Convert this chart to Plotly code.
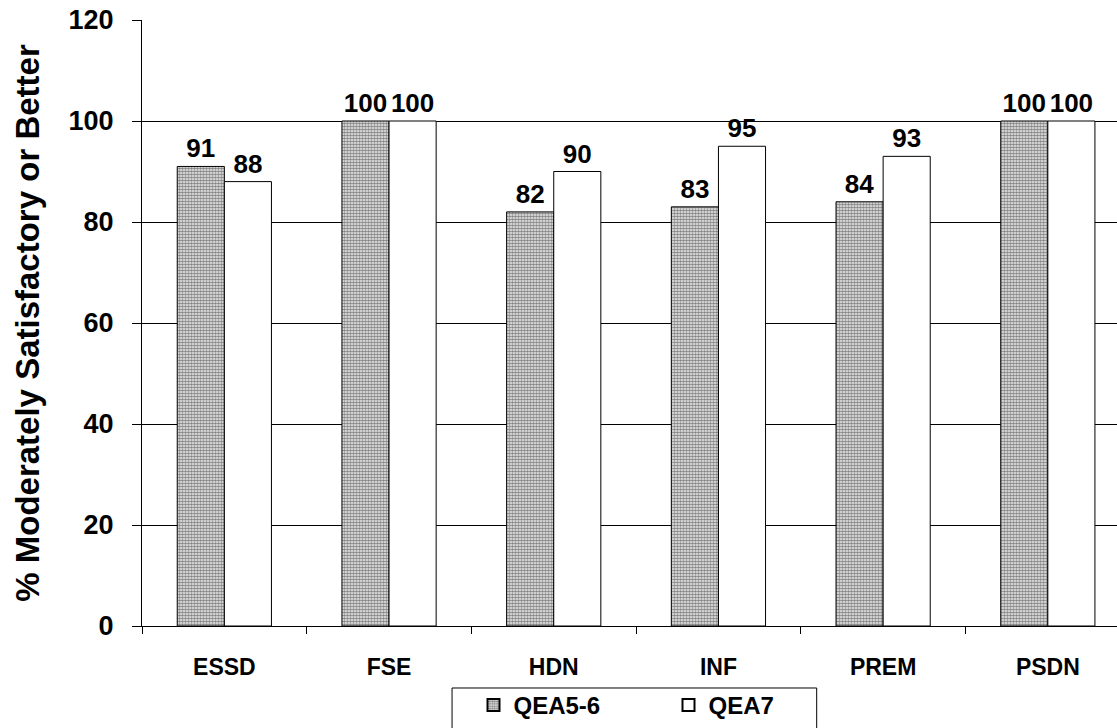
import plotly.graph_objects as go

categories = ["ESSD", "FSE", "HDN", "INF", "PREM", "PSDN"]
qea56 = [91, 100, 82, 83, 84, 100]
qea7 = [88, 100, 90, 95, 93, 100]
y_ticks = [0, 20, 40, 60, 80, 100, 120]

FONT = "Arial, Liberation Sans, Helvetica, sans-serif"


def bold(size):
    return dict(family=FONT, size=size, color="#000000", weight="bold")


fig = go.Figure()
fig.add_trace(go.Bar(
    name="QEA5-6", x=categories, y=qea56,
    marker=dict(color="#ffffff", line=dict(color="#000000", width=1),
                pattern=dict(shape=".", size=3, solidity=0.62,
                             fgcolor="#1a1a1a", bgcolor="#f2f2f2")),
    text=qea56, texttemplate="%{text}", textposition="outside",
    textfont=bold(26), constraintext="none",
    cliponaxis=False,
))
fig.add_trace(go.Bar(
    name="QEA7", x=categories, y=qea7,
    marker=dict(color="#ffffff", line=dict(color="#000000", width=1)),
    text=qea7, texttemplate="%{text}", textposition="outside",
    textfont=bold(26), constraintext="none",
    cliponaxis=False,
))

# Legend frame (runs off the bottom edge of the page)
fig.add_shape(type="rect", xref="paper", yref="paper",
              x0=0.318, x1=0.692, y0=-0.1023, y1=-0.2,
              line=dict(color="#000000", width=1), fillcolor="rgba(0,0,0,0)")

fig.update_layout(
    width=1117, height=728,
    margin=dict(l=142, r=0, t=20, b=102),
    paper_bgcolor="#ffffff", plot_bgcolor="#ffffff",
    barmode="group", bargap=0.428, bargroupgap=0,
    font=dict(family=FONT, color="#000000"),
    showlegend=True,
    legend=dict(orientation="h", x=0.34, y=-0.094, xanchor="left", yanchor="top",
                font=bold(24),
                bgcolor="rgba(0,0,0,0)", borderwidth=0,
                entrywidth=150, entrywidthmode="pixels",
                itemsizing="constant"),
    xaxis=dict(
        type="category", range=[-0.5, 5.42],
        tickson="boundaries", ticks="outside", ticklen=7, tickcolor="#000000",
        tickfont=bold(23),
        ticklabelstandoff=20,
        showline=True, linecolor="#000000", linewidth=1,
        showgrid=False,
    ),
    yaxis=dict(
        range=[0, 120], tickvals=y_ticks,
        ticks="outside", ticklen=9, tickcolor="#000000",
        tickfont=bold(27),
        ticklabelstandoff=13,
        showline=True, linecolor="#000000", linewidth=1,
        showgrid=True, gridcolor="#000000", gridwidth=1,
        zeroline=False,
        title=dict(text="% Moderately Satisfactory or Better",
                   font=bold(33),
                   standoff=18),
    ),
)

fig.write_html("out.html")
